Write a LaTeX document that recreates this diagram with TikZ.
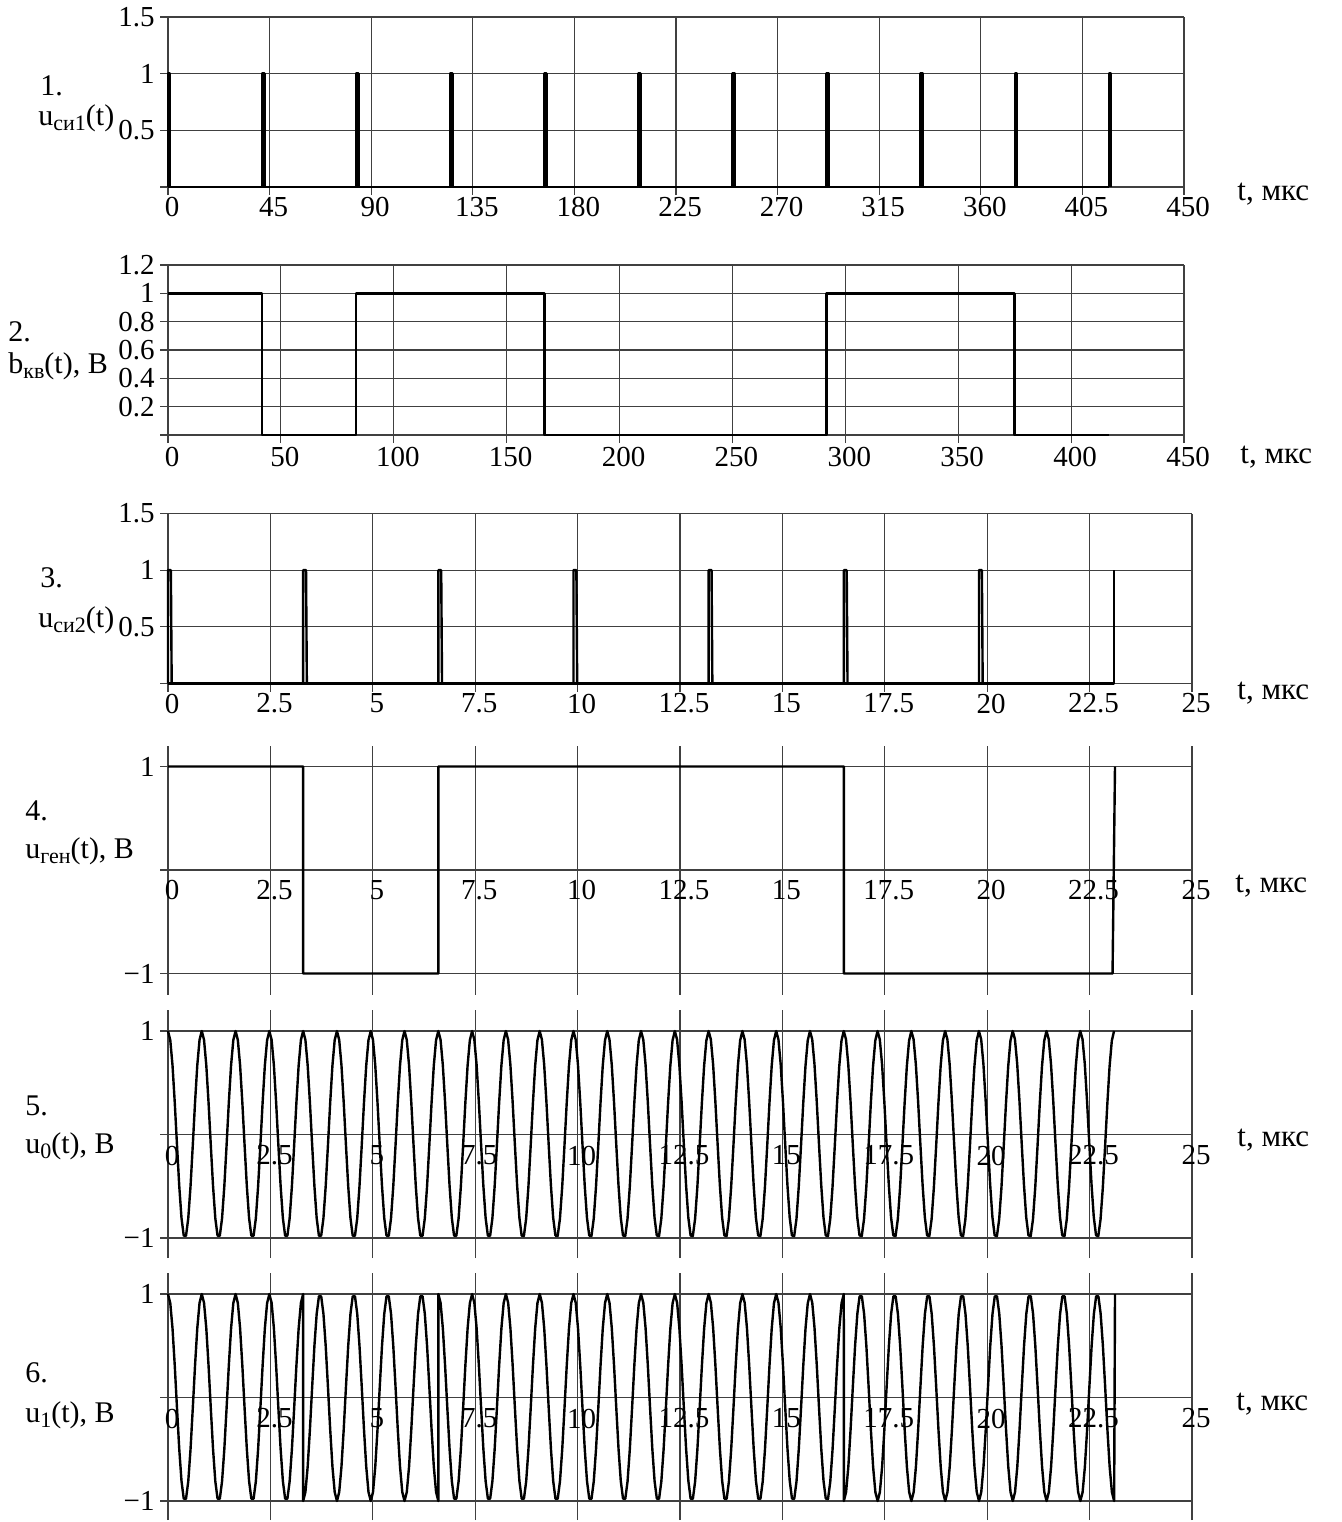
\documentclass[tikz,border=0pt]{standalone}
\usepackage{fontspec}
\setmainfont{Liberation Serif}
\usetikzlibrary{positioning}
\newcommand{\lowidx}[1]{\raisebox{-2.8pt}{\fontsize{11pt}{12pt}\selectfont #1}}

\begin{document}
\begin{tikzpicture}[x=0.5pt, y=-0.5pt,
  every node/.style={font=\fontsize{14.5pt}{17pt}\selectfont, inner sep=0pt},
  gridline/.style={draw=black!75, line width=0.6pt},
  signal/.style={draw=black, line width=1.2pt, line join=round},
  ticklabel/.style={anchor=center},
  ylabel/.style={anchor=east},
  caption/.style={anchor=base west, font=\fontsize{15pt}{17pt}\selectfont},
  unitlabel/.style={anchor=base west, font=\fontsize{15.5pt}{18pt}\selectfont}
]
\useasboundingbox (0,0) rectangle (1342,1522);
% Captions
\node[caption] (num1) at (40,95) {1.};
\node[caption] (lab1) at (38,125) {u\lowidx{си1}(t)};
\node[caption] (num2) at (8,341) {2.};
\node[caption] (lab2) at (8,373) {b\lowidx{кв}(t), В};
\node[caption] (num3) at (40,587) {3.};
\node[caption] (lab3) at (38,627) {u\lowidx{си2}(t)};
\node[caption] (num4) at (25,820) {4.};
\node[caption] (lab4) at (25,858) {u\lowidx{ген}(t), В};
\node[caption] (num5) at (25,1115) {5.};
\node[caption] (lab5) at (25,1153) {u\lowidx{0}(t), В};
\node[caption] (num6) at (25,1382) {6.};
\node[caption] (lab6) at (25,1422) {u\lowidx{1}(t), В};
% Time units
\node[unitlabel] (unit1) at (1237,200) {t, мкс};
\node[unitlabel] (unit2) at (1240,463) {t, мкс};
\node[unitlabel] (unit3) at (1237,699) {t, мкс};
\node[unitlabel] (unit4) at (1235,892) {t, мкс};
\node[unitlabel] (unit5) at (1237,1146) {t, мкс};
\node[unitlabel] (unit6) at (1236,1410) {t, мкс};

% 1. Clock pulses u_si1
\begin{scope}[shift={(168,187)}, x=1.12889pt, y=56.667pt]
  \foreach \t in {0,45,...,450} \draw[gridline] ([yshift=-4pt]\t,0) -- (\t,1.5);
  \foreach \u in {0,0.5,1,1.5} \draw[gridline] ([xshift=-4pt]0,\u) -- (450,\u);
  \foreach \t [count=\i] in {0,45,...,450}
    \node[ticklabel] (xa\i) at ([xshift=2pt,yshift=-10pt]\t,0) {\t};
  \foreach \u [count=\i] in {0.5,1,1.5}
    \node[ylabel] (ya\i) at ([xshift=-6.5pt]0,\u) {\u};
  \draw[signal] (0,0) -- (416.7,0);
  \foreach \k in {0,...,10}
    \draw[signal] ({\k*41.67},0) -- ({\k*41.67},1) -- ({\k*41.67+1},1) -- ({\k*41.67+1},0);
\end{scope}

% 2. Binary sequence b_kv
\begin{scope}[shift={(168,435)}, x=1.12889pt, y=70.833pt]
  \foreach \t in {0,50,...,450} \draw[gridline] ([yshift=-4pt]\t,0) -- (\t,1.2);
  \foreach \u in {0,0.2,0.4,0.6,0.8,1,1.2} \draw[gridline] ([xshift=-4pt]0,\u) -- (450,\u);
  \foreach \t [count=\i] in {0,50,...,450}
    \node[ticklabel] (xb\i) at ([xshift=2pt,yshift=-11pt]\t,0) {\t};
  \foreach \u [count=\i] in {0.2,0.4,0.6,0.8,1,1.2}
    \node[ylabel] (yb\i) at ([xshift=-6.5pt]0,\u) {\u};
  \draw[signal] (0,1) -- (41.67,1) -- (41.67,0) -- (83.33,0) -- (83.33,1)
    -- (166.67,1) -- (166.67,0) -- (291.67,0) -- (291.67,1) -- (375,1)
    -- (375,0) -- (416.67,0);
\end{scope}

% 3. Clock pulses u_si2
\begin{scope}[shift={(168,683.5)}, x=20.48pt, y=56.667pt]
  \foreach \t in {0,2.5,5,7.5,10,12.5,15,17.5,20,22.5,25}
    \draw[gridline] ([yshift=-4pt]\t,0) -- (\t,1.5);
  \foreach \u in {0,0.5,1,1.5} \draw[gridline] ([xshift=-4pt]0,\u) -- (25,\u);
  \foreach \t [count=\i] in {0,2.5,5,7.5,10,12.5,15,17.5,20,22.5,25}
    \node[ticklabel] (xc\i) at ([xshift=2pt,yshift=-10pt]\t,0) {\t};
  \foreach \u [count=\i] in {0.5,1,1.5}
    \node[ylabel] (yc\i) at ([xshift=-6.5pt]0,\u) {\u};
  \draw[signal] (0,0) -- (23.1,0) -- (23.1,1);
  \foreach \k in {0,...,6}
    \draw[signal] ({\k*3.3},0) -- ({\k*3.3},1) -- ({\k*3.3+0.07},1) -- ({\k*3.3+0.09},0);
\end{scope}

% 4. Generator output u_gen
\begin{scope}[shift={(168,870)}, x=20.48pt, y=51.75pt]
  \foreach \t in {0,2.5,5,7.5,10,12.5,15,17.5,20,22.5,25}
    \draw[gridline] ([yshift=-10.5pt]\t,-1) -- ([yshift=10.25pt]\t,1);
  \foreach \u in {-1,0,1} \draw[gridline] ([xshift=-4pt]0,\u) -- (25,\u);
  \foreach \t [count=\i] in {0,2.5,5,7.5,10,12.5,15,17.5,20,22.5,25}
    \node[ticklabel] (xd\i) at ([xshift=2pt,yshift=-10pt]\t,0) {\t};
  \node[ylabel] (yd1) at ([xshift=-6.5pt]0,1) {1};
  \node[ylabel] (yd2) at ([xshift=-6.5pt]0,-1) {−1};
  \draw[signal] (0,1) -- (3.3,1) -- (3.3,-1) -- (6.6,-1) -- (6.6,1) -- (16.5,1)
    -- (16.5,-1) -- (23.06,-1) -- (23.12,1);
\end{scope}

% 5. Carrier u_0
\begin{scope}[shift={(168,1134.5)}, x=20.48pt, y=51.75pt]
  \foreach \t in {0,2.5,5,7.5,10,12.5,15,17.5,20,22.5,25}
    \draw[gridline] ([yshift=-10pt]\t,-1) -- ([yshift=10.5pt]\t,1);
  \foreach \u in {-1,0,1} \draw[gridline] ([xshift=-4pt]0,\u) -- (25,\u);
  \foreach \t [count=\i] in {0,2.5,5,7.5,10,12.5,15,17.5,20,22.5,25}
    \node[ticklabel] (xe\i) at ([xshift=2pt,yshift=-10.5pt]\t,0) {\t};
  \node[ylabel] (ye1) at ([xshift=-6.5pt]0,1) {1};
  \node[ylabel] (ye2) at ([xshift=-6.5pt]0,-1) {−1};
  \draw[signal] plot[domain=0:23.1, samples=421] (\x,{cos(360*\x/0.825)});
\end{scope}

% 6. Modulated signal u_1
\begin{scope}[shift={(168,1397.5)}, x=20.48pt, y=51.75pt]
  \foreach \t in {0,2.5,5,7.5,10,12.5,15,17.5,20,22.5,25}
    \draw[gridline] ([yshift=-9.5pt]\t,-1) -- ([yshift=10.5pt]\t,1);
  \foreach \u in {-1,0,1} \draw[gridline] ([xshift=-4pt]0,\u) -- (25,\u);
  \foreach \t [count=\i] in {0,2.5,5,7.5,10,12.5,15,17.5,20,22.5,25}
    \node[ticklabel] (xf\i) at ([xshift=2pt,yshift=-10.5pt]\t,0) {\t};
  \node[ylabel] (yf1) at ([xshift=-6.5pt]0,1) {1};
  \node[ylabel] (yf2) at ([xshift=-6.5pt]0,-1) {−1};
  \draw[signal] plot[domain=0:3.3, samples=61] (\x,{cos(360*\x/0.825)})
    -- plot[domain=3.3:6.6, samples=61] (\x,{-cos(360*\x/0.825)})
    -- plot[domain=6.6:16.5, samples=181] (\x,{cos(360*\x/0.825)})
    -- plot[domain=16.5:23.1, samples=121] (\x,{-cos(360*\x/0.825)})
    -- (23.12,1);
\end{scope}
\end{tikzpicture}
\end{document}
